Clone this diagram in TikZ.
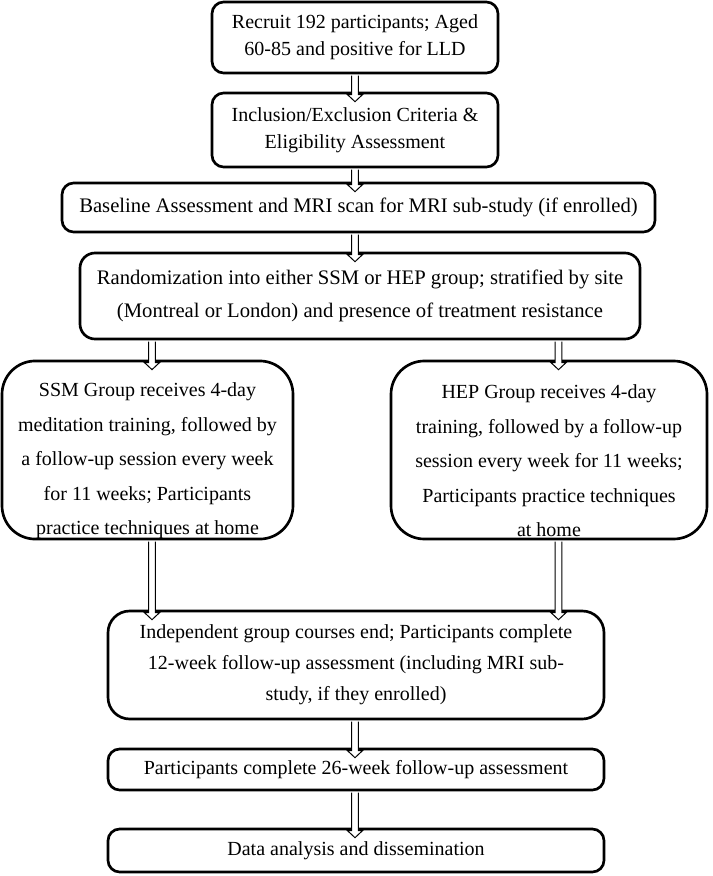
\documentclass[tikz,border=0pt]{standalone}
\usepackage{fontspec}
\setmainfont{Liberation Serif}
\usetikzlibrary{calc}

% hollow block arrow from a point under one box into the top of the next
\newcommand{\flowarrow}[2]{%
  \draw[hollow] let \p1=(#1), \p2=(#2) in
    (\x1-2pt,\y1-0.8pt) -- (\x1-2pt,\y2-1.8pt) -- (\x1-4.5pt,\y2-1.8pt)
    -- (\x1,\y2-6pt) -- (\x1+4.5pt,\y2-1.8pt) -- (\x1+2pt,\y2-1.8pt)
    -- (\x1+2pt,\y1-0.8pt);}

\begin{document}
\begin{tikzpicture}[x=0.6pt, y=-0.6pt,
    box/.style={draw, line width=1.6pt, rounded corners=7pt, align=center,
      inner sep=0pt, font=\fontsize{12}{16.2}\selectfont},
    hollow/.style={draw, fill=white, line width=0.6pt, line join=miter}]
    \useasboundingbox (0,0) rectangle (712,876);

    % 1. Recruitment and screening
    \node[box, minimum width=171.6pt, minimum height=42.6pt] (recruit) at (355,37.5)
        {Recruit 192 participants; Aged\\60-85 and positive for LLD};
    \node[box, minimum width=171.6pt, minimum height=44.4pt] (incl) at (355,130)
        {Inclusion/Exclusion Criteria \&\\Eligibility Assessment};
    \node[box, minimum width=355.8pt, minimum height=29.4pt,
        font=\fontsize{12.4}{16.2}\selectfont] (base) at (358.5,207.5)
        {Baseline Assessment and MRI scan for MRI sub-study (if enrolled)};

    % 2. Randomization
    \node[box, rounded corners=9pt, minimum width=336pt, minimum height=51.6pt,
        font=\fontsize{12.4}{19.8}\selectfont] (rand) at (360,296)
        {Randomization into either SSM or HEP group; stratified by site\\(Montreal or London) and presence of treatment resistance};

    % 3. The two groups
    \node[box, rounded corners=20pt, minimum width=174.6pt, minimum height=106.8pt,
        font=\fontsize{12}{20.7}\selectfont] (ssm) at (147.5,450)
        {\rule{0pt}{21.5pt}SSM Group receives 4-day\\meditation training, followed by\\a follow-up session every week\\for 11 weeks; Participants\\practice techniques at home};
    \node[box, rounded corners=20pt, minimum width=189.6pt, minimum height=106.8pt,
        font=\fontsize{12}{20.7}\selectfont] (hep) at (549,450)
        {\rule{0pt}{21.5pt}HEP Group receives 4-day\\training, followed by a follow-up\\session every week for 11 weeks;\\Participants practice techniques\\at home};

    % 4. Follow-up and analysis
    \node[box, rounded corners=13pt, minimum width=297.6pt, minimum height=64.8pt,
        font=\fontsize{12}{18.6}\selectfont] (ends) at (356,665)
        {Independent group courses end; Participants complete\\12-week follow-up assessment (including MRI sub-\\study, if they enrolled)};
    \node[box, minimum width=297.6pt, minimum height=24.6pt] (wk26) at (356,769.5)
        {Participants complete 26-week follow-up assessment};
    \node[box, minimum width=297.6pt, minimum height=25.8pt] (data) at (356,850.5)
        {Data analysis and dissemination};

    % 5. Arrows
    \flowarrow{recruit.south}{incl.north}
    \flowarrow{incl.south}{base.north}
    \flowarrow{$(base.south)+(-3.5,0)$}{rand.north}
    \flowarrow{$(rand.south -| ssm)+(4.5,0)$}{ssm.north}
    \flowarrow{$(rand.south -| hep)+(9.5,0)$}{hep.north}
    \flowarrow{$(ssm.south)+(4.5,0)$}{ends.north}
    \flowarrow{$(hep.south)+(9.5,0)$}{ends.north}
    \flowarrow{$(ends.south)+(-1,0)$}{wk26.north}
    \flowarrow{$(wk26.south)+(-1,0)$}{data.north}

\end{tikzpicture}
\end{document}
